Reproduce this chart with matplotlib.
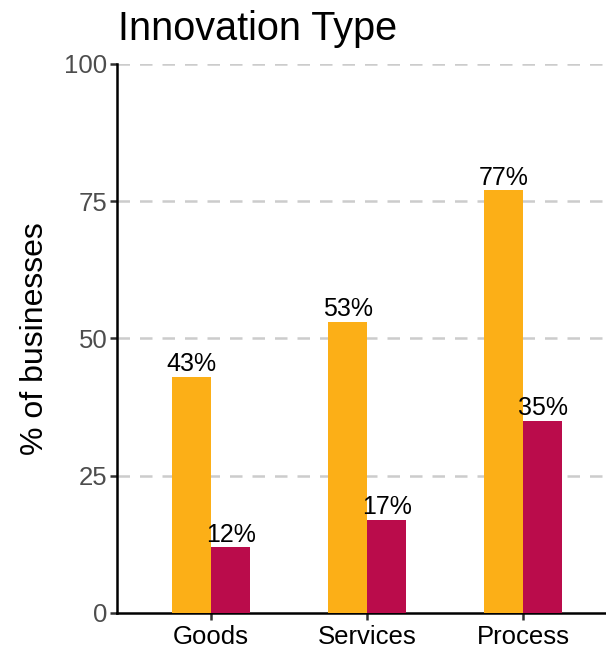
import matplotlib.pyplot as plt
import numpy as np

categories = ['Goods', 'Services', 'Process']
series_a = [43, 53, 77]
series_b = [12, 17, 35]
yticks = [0, 25, 50, 75, 100]

plt.rcParams['font.family'] = ['Liberation Sans', 'DejaVu Sans']

fig = plt.figure(figsize=(6.06, 6.53), dpi=100)
ax = fig.add_axes([0.193, 0.0613, 0.807, 0.8407])

x = np.arange(1, len(categories) + 1)
w = 0.25
bars_a = ax.bar(x - w / 2, series_a, width=w, color='#FCAF17', zorder=3)
bars_b = ax.bar(x + w / 2, series_b, width=w, color='#BA0C4B', zorder=3)

for bars, vals in ((bars_a, series_a), (bars_b, series_b)):
    for b, v in zip(bars, vals):
        ax.text(b.get_x() + b.get_width() / 2, v + 0.1, f'{v}%',
                ha='center', va='bottom', fontsize=18, color='black', zorder=4)

ax.set_xlim(0.397, 3.53)
ax.set_ylim(0, 100)
ax.set_xticks(x)
ax.set_xticklabels(categories, fontsize=18.5, color='black')
ax.set_yticks(yticks)
ax.set_yticklabels([str(t) for t in yticks], fontsize=18.5, color='#4D4D4D')

for t in yticks[1:]:
    ax.axhline(t, color='#CCCCCC', linestyle=(0, (5, 4)), linewidth=1.8, zorder=1)

for side in ('top', 'right'):
    ax.spines[side].set_visible(False)
for side in ('left', 'bottom'):
    ax.spines[side].set_linewidth(1.8)
    ax.spines[side].set_color('black')
ax.tick_params(axis='both', length=5, width=1.8, color='#333333')
ax.tick_params(axis='x', pad=4)
ax.tick_params(axis='y', pad=2)

ax.set_ylabel('% of businesses', fontsize=23, labelpad=10)
fig.text(0.195, 0.985, 'Innovation Type', fontsize=28.5, ha='left', va='top')

fig.savefig('out.png', dpi=100)
